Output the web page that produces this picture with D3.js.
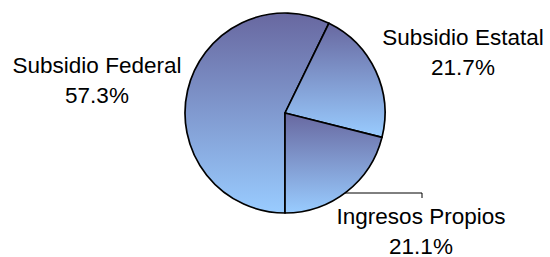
<!DOCTYPE html>
<html>
<head>
<meta charset="utf-8">
<script src="https://cdn.jsdelivr.net/npm/d3@7"></script>
<style>
  html, body { margin: 0; padding: 0; background: #fff; }
  text { font-family: "Liberation Sans", Arial, sans-serif; fill: #000; }
</style>
</head>
<body>
<div id="chart"></div>
<script>
var categories = ['Subsidio Federal', 'Subsidio Estatal', 'Ingresos Propios'];
var values = [57.3, 21.7, 21.1];
var valueLabels = ['57.3%', '21.7%', '21.1%'];

var width = 550, height = 257;
var cx = 285, cy = 113, radius = 100;

var svg = d3.select('#chart').append('svg')
    .attr('width', width)
    .attr('height', height);

// vertical gradient per slice (bounding box of each slice)
var grad = svg.append('defs').append('linearGradient')
    .attr('id', 'sliceGrad')
    .attr('x1', 0).attr('y1', 0)
    .attr('x2', 0).attr('y2', 1);
grad.append('stop').attr('offset', '0%').attr('stop-color', '#6868a0');
grad.append('stop').attr('offset', '100%').attr('stop-color', '#99ccff');

var data = categories.map(function(c, i){ return {name: c, value: values[i], label: valueLabels[i]}; });

var pie = d3.pie()
    .sort(null)
    .value(function(d){ return d.value; })
    .startAngle(Math.PI)
    .endAngle(3 * Math.PI);

var arc = d3.arc().innerRadius(0).outerRadius(radius);

var g = svg.append('g').attr('transform', 'translate(' + cx + ',' + cy + ')');

var arcs = pie(data);

g.selectAll('path')
    .data(arcs)
    .enter()
    .append('path')
    .attr('d', arc)
    .attr('fill', 'url(#sliceGrad)')
    .attr('stroke', '#000')
    .attr('stroke-width', 1.7)
    .attr('stroke-linejoin', 'round');

// label positions (offset from pie center)
var labelPos = [
    {x: 97 - cx, y: 73 - cy},
    {x: 463 - cx, y: 45 - cy},
    {x: 421 - cx, y: 224 - cy}
];

var labels = g.selectAll('g.lbl')
    .data(arcs)
    .enter()
    .append('g')
    .attr('class', 'lbl')
    .attr('transform', function(d, i){ return 'translate(' + labelPos[i].x + ',' + labelPos[i].y + ')'; });

labels.append('text')
    .attr('text-anchor', 'middle')
    .attr('font-size', 22.5)
    .text(function(d){ return d.data.name; });

labels.append('text')
    .attr('text-anchor', 'middle')
    .attr('font-size', 22.5)
    .attr('y', 30)
    .text(function(d){ return d.data.label; });

// leader line for Ingresos Propios
var edgeY = 193 - cy;
var edgeX = Math.sqrt(radius * radius - edgeY * edgeY);
g.append('path')
    .attr('d', 'M' + edgeX + ',' + edgeY + 'H' + (422 - cx) + 'V' + (198 - cy))
    .attr('fill', 'none')
    .attr('stroke', '#000')
    .attr('stroke-width', 1);
</script>
</body>
</html>
